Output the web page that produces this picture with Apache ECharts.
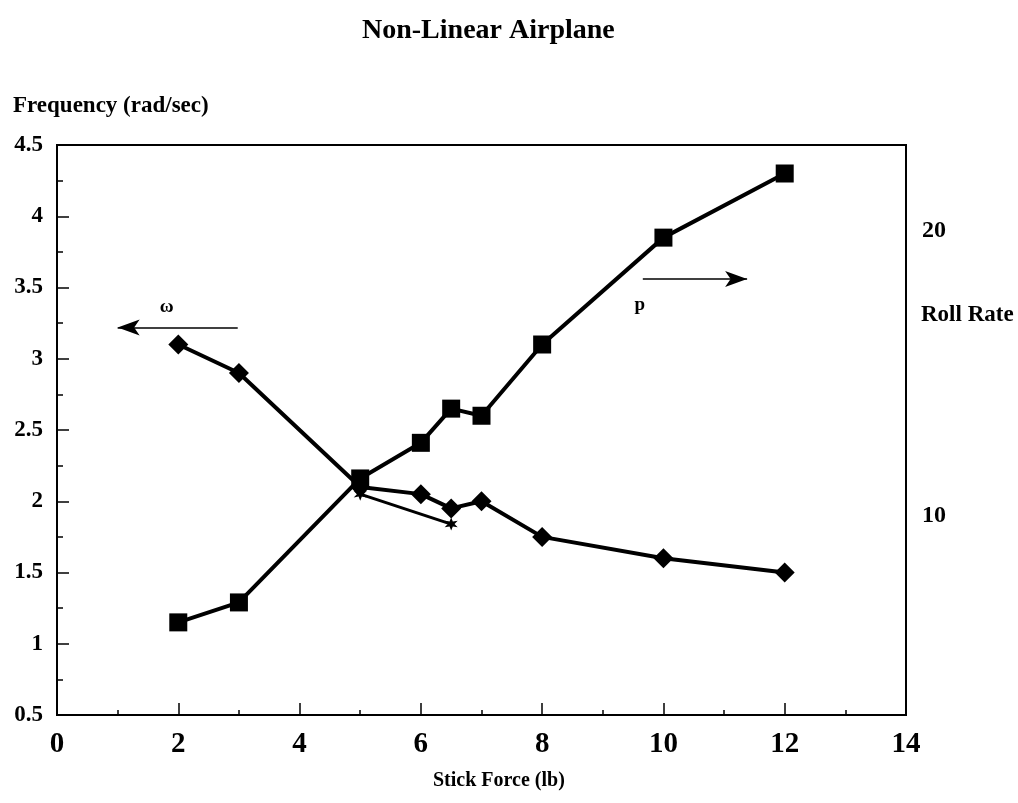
<!DOCTYPE html>
<html>
<head>
<meta charset="utf-8">
<script src="https://cdn.jsdelivr.net/npm/echarts@6/dist/echarts.min.js"></script>
<style>
html,body{margin:0;padding:0;background:#fff;}
#chart{width:1018px;height:803px;}
</style>
</head>
<body>
<div id="chart"></div>
<script>
// Stick force (lb)
var stickForce = [2, 3, 5, 6, 6.5, 7, 8, 10, 12];
// Frequency omega (rad/sec) - diamonds, left axis
var omega = [3.1, 2.9, 2.1, 2.05, 1.95, 2.0, 1.75, 1.6, 1.5];
// Roll rate p - squares, right axis
var rollRate = [6.25, 6.95, 11.3, 12.55, 13.75, 13.5, 16.0, 19.75, 22.0];
// Second frequency branch - stars, left axis
var starForce = [5, 6.5];
var starOmega = [2.05, 1.84];
// Axis tick labels
var xTicks = [0, 2, 4, 6, 8, 10, 12, 14];
var leftTicks = [0.5, 1, 1.5, 2, 2.5, 3, 3.5, 4, 4.5];
var rightTicks = [10, 20];

function pairs(xs, ys) { return xs.map(function (x, i) { return [x, ys[i]]; }); }

var FONT = '"Liberation Serif", "Times New Roman", serif';
var starPath = 'path://M50,0 L61,31 L93,25 L72,50 L93,75 L61,69 L50,100 L39,69 L7,75 L28,50 L7,25 L39,31 Z';

var chart = echarts.init(document.getElementById('chart'), null, { renderer: 'canvas' });
chart.setOption({
  backgroundColor: '#fff',
  animation: false,
  title: {
    text: 'Non-Linear Airplane',
    left: 357, top: 12,
    textStyle: { fontFamily: FONT, fontWeight: 'bold', fontSize: 28, color: '#000' }
  },
  grid: {
    left: 57, right: 112, top: 145, bottom: 88,
    show: true, borderColor: '#000', borderWidth: 2, backgroundColor: 'transparent'
  },
  xAxis: {
    type: 'value', min: 0, max: 14, interval: 2,
    axisLine: { show: true, lineStyle: { color: '#000', width: 2 } },
    axisTick: { show: true, inside: true, length: 12, lineStyle: { color: '#000', width: 1.5 } },
    minorTick: { show: true, splitNumber: 2, length: 5, lineStyle: { color: '#000', width: 1.5 } },
    splitLine: { show: false },
    axisLabel: {
      margin: 15, color: '#000', fontFamily: FONT, fontWeight: 'bold', fontSize: 29,
      formatter: function (v) { return xTicks.indexOf(v) >= 0 ? String(v) : ''; }
    }
  },
  yAxis: [{
    type: 'value', min: 0.5, max: 4.5, interval: 0.5, position: 'left',
    axisLine: { show: true, lineStyle: { color: '#000', width: 2 } },
    axisTick: { show: true, inside: true, length: 12, lineStyle: { color: '#000', width: 1.5 } },
    minorTick: { show: true, splitNumber: 2, length: 6, lineStyle: { color: '#000', width: 1.5 } },
    splitLine: { show: false },
    axisLabel: {
      margin: 14, color: '#000', fontFamily: FONT, fontWeight: 'bold', fontSize: 23,
      formatter: function (v) { return leftTicks.indexOf(v) >= 0 ? String(v) : ''; }
    }
  }, {
    type: 'value', min: 3, max: 23, interval: 1, position: 'right',
    axisLine: { show: false },
    axisTick: { show: false },
    splitLine: { show: false },
    axisLabel: {
      margin: 16, color: '#000', fontFamily: FONT, fontWeight: 'bold', fontSize: 24,
      formatter: function (v) { return rightTicks.indexOf(v) >= 0 ? String(v) : ''; }
    }
  }],
  graphic: [
    { type: 'text', left: 13, top: 95, style: { text: 'Frequency (rad/sec)', fontFamily: FONT, fontWeight: 'bold', fontSize: 23, fill: '#000' } },
    { type: 'text', left: 433, top: 771, style: { text: 'Stick Force (lb)', fontFamily: FONT, fontWeight: 'bold', fontSize: 20, fill: '#000' } },
    { type: 'text', left: 921, top: 304, style: { text: 'Roll Rate', fontFamily: FONT, fontWeight: 'bold', fontSize: 23, fill: '#000' } }
  ],
  series: [{
    name: 'omega', type: 'line', yAxisIndex: 0,
    data: pairs(stickForce, omega),
    symbol: 'diamond', symbolSize: [20, 20],
    itemStyle: { color: '#000' },
    lineStyle: { color: '#000', width: 4 },
    z: 3,
    markLine: {
      silent: true, symbol: ['none', 'arrow'], symbolSize: [12, 22],
      lineStyle: { color: '#000', width: 1.5, type: 'solid' },
      label: { show: false },
      data: [
        [{ coord: [2.98, 3.22] }, { coord: [1.0, 3.22] }],
        [{ coord: [9.66, 3.56] }, { coord: [11.38, 3.56] }]
      ]
    },
    markPoint: {
      silent: true, symbol: 'circle', symbolSize: 1,
      itemStyle: { color: 'rgba(0,0,0,0)' },
      label: { show: true, position: 'inside', color: '#000', fontFamily: FONT, fontWeight: 'bold', fontSize: 19,
               formatter: function (p) { return p.name; } },
      data: [
        { name: 'ω', coord: [1.81, 3.36] },
        { name: 'p', coord: [9.61, 3.38] }
      ]
    }
  }, {
    name: 'stars', type: 'line', yAxisIndex: 0,
    data: pairs(starForce, starOmega),
    symbol: starPath, symbolSize: 13,
    itemStyle: { color: '#000' },
    lineStyle: { color: '#000', width: 3 },
    z: 2
  }, {
    name: 'p', type: 'line', yAxisIndex: 1,
    data: pairs(stickForce, rollRate),
    symbol: 'rect', symbolSize: 18,
    itemStyle: { color: '#000' },
    lineStyle: { color: '#000', width: 4 },
    z: 4
  }]
});
</script>
</body>
</html>
